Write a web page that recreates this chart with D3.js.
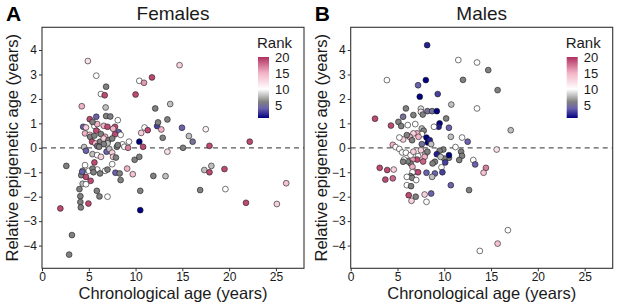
<!DOCTYPE html>
<html>
<head>
<meta charset="utf-8">
<script src="https://cdn.jsdelivr.net/npm/d3@7"></script>
<style>
  body { margin: 0; background: #fff; }
  svg { font-family: "Liberation Sans", Arial, sans-serif; }
</style>
</head>
<body>
<div id="chart"></div>
<script>
// Females: chronological age, relative epigenetic age, rank
var femaleAge = [4.9,5.8,6.3,6.85,6.7,6.8,4.25,5.8,6.85,7.3,5.1,4.4,4.7,5.6,5.9,5.4,6.6,7.0,7.8,8.1,7.6,8.2,7.8,8.4,4.6,5.1,5.15,5.6,5.96,6.3,5.8,6.75,5.35,5.7,6.2,6.6,7.1,7.5,7.0,6.6,5.9,4.5,4.7,6.1,6.9,7.2,7.5,7.6,8.0,8.6,8.8,8.1,5.4,5.9,6.3,5.6,4.6,5.0,5.9,5.4,5.5,4.35,4.2,4.3,4.7,5.2,4.35,4.7,4.0,4.1,4.1,4.15,4.96,5.86,6.14,7.0,2.6,1.96,3.2,2.9,6.75,7.0,7.5,7.9,7.85,8.3,8.4,6.2,9.1,9.2,9.3,9.7,9.9,10.4,10.4,10.0,10.4,10.9,11.75,10.96,10.6,11.3,10.8,10.5,10.5,12.1,12.3,12.4,12.75,12.9,13.4,13.7,13.4,11.9,13.2,14.7,14.96,15.07,15.7,16.1,17.5,17.35,16.9,17.9,17.9,18.1,19.5,19.6,22.2,21.8,25.1,26.1];
var femaleRel = [3.55,2.95,2.2,2.5,2.15,1.65,1.7,1.27,1.3,1.28,1.17,0.86,0.83,0.89,0.97,1.06,0.9,0.86,0.86,1.13,0.78,0.64,0.55,0.53,0.59,0.53,0.45,0.5,0.65,0.56,0.7,0.45,0.25,0.18,0.25,0.38,0.31,0.38,0.18,0.15,0.07,0.03,-0.12,0.04,-0.16,-0.05,-0.2,-0.37,0.04,0.14,0.04,0.11,-0.26,-0.3,-0.37,-0.6,-0.71,-0.94,-0.89,-0.85,-1.0,-0.94,-1.12,-0.98,-1.19,-1.35,-1.47,-1.49,-1.69,-1.98,-2.22,-2.44,-2.28,-1.76,-1.99,-2.0,-0.74,-2.48,-3.57,-4.37,-0.94,-0.89,-0.67,-0.4,-1.02,-1.05,-1.32,-1.05,-0.85,0.0,0.25,-1.08,-0.49,-0.37,0.25,2.18,2.74,2.66,2.88,0.83,0.61,0.72,0.04,-1.76,-2.55,1.61,0.89,1.04,0.75,0.41,1.16,1.79,-0.16,-1.15,-1.16,3.38,0.82,0.0,0.48,0.25,0.76,-0.91,-1.73,0.08,-1.0,-0.74,-0.87,-1.69,0.25,-2.25,-2.3,-1.45];
var femaleRank = [12,10,10,6,19,8,15,4,6,6,19,4,13,10,15,6,15,19,19,10,15,4,19,10,15,13,6,6,10,6,19,15,19,15,6,13,6,6,8,6,5,8,4,6,4,8,13,13,6,10,10,6,8,10,13,19,10,10,10,6,6,8,6,4,19,19,8,10,6,6,6,6,19,6,6,10,6,19,6,6,10,6,10,6,4,6,6,6,15,17,10,14,6,6,1,19,10,16,19,10,13,19,19,6,1,6,3,6,15,6,6,8,12,6,8,13,4,6,8,5,11,8,6,19,19,8,19,10,19,19,13,14];

// Males
var maleAge = [8.17,3.87,8.03,7.2,7.38,9.3,11.5,13.5,14.7,12.0,15.7,13.5,17.1,15.6,10.75,5.9,5.6,5.1,5.4,6.1,6.7,6.9,7.5,7.5,7.7,8.2,8.7,9.2,9.5,9.4,8.9,10.2,10.5,7.6,7.8,7.6,7.1,7.25,6.7,6.3,6.0,5.6,5.2,6.56,8.1,8.24,8.45,8.6,7.6,4.5,4.3,2.6,10.7,11.9,12.5,11.2,11.8,11.9,11.6,10.5,10.5,10.0,10.1,9.9,9.5,9.2,9.6,9.7,9.8,9.0,8.75,8.0,8.2,7.5,7.2,7.9,7.74,7.1,6.6,6.4,6.1,5.7,4.8,5.2,5.5,5.9,6.4,6.7,5.6,6.6,6.8,7.2,6.6,6.4,6.56,6.0,7.0,6.0,6.45,8.1,9.0,8.7,10.7,12.65,3.1,3.9,4.6,3.7,4.5,6.2,6.95,6.5,7.9,8.1,8.6,13.1,13.3,14.45,14.2,16.8,15.7,13.8];
var maleRel = [4.2,2.77,2.77,2.56,2.09,2.2,3.59,3.49,3.18,2.78,2.36,1.61,0.72,-0.07,1.77,1.61,1.27,1.06,0.89,0.93,1.34,0.97,1.6,1.47,1.36,1.5,1.5,1.5,1.0,0.86,0.86,1.2,0.82,0.79,0.7,0.56,0.59,0.45,0.59,0.45,0.52,0.34,0.42,0.31,0.42,0.22,0.31,0.15,0.15,0.12,0.91,1.19,0.45,0.42,0.25,0.03,-0.16,-0.33,-0.5,-0.41,-0.3,-0.44,-0.6,-0.07,-0.12,-0.26,-0.37,-0.8,-1.0,-0.57,-0.64,-0.23,-0.16,-0.1,-0.34,-0.37,-0.56,-0.48,-0.48,-0.64,-0.55,-0.48,0.03,-0.05,-0.19,-0.2,-0.3,-0.16,-0.57,-0.78,-0.98,-1.0,-1.0,-1.16,-1.23,-1.19,-1.32,-1.53,-1.57,-1.02,-1.05,-1.19,-1.53,-1.73,-0.82,-0.91,-0.89,-1.3,-1.25,-1.94,-2.0,-2.17,-1.91,-2.21,-1.87,-0.5,-0.68,-0.82,-1.02,-3.37,-3.92,-4.22];
var maleRank = [2,10,1,4,1,3,10,10,6,6,6,10,8,12,8,6,5,6,6,10,6,10,9,12,6,5,5,1,1,2,10,6,4,8,6,10,15,15,13,15,6,13,10,6,1,1,2,8,5,15,19,19,8,10,4,10,6,6,6,6,1,6,3,6,6,2,8,10,3,6,6,8,6,13,10,15,18,19,16,6,6,10,10,10,10,10,10,13,6,15,15,19,10,6,6,10,10,10,6,4,4,8,4,6,19,19,13,19,18,19,6,13,13,10,4,10,4,17,14,10,14,10];

var xTicks = [0, 5, 10, 15, 20, 25];
var yTicks = [-4, -3, -2, -1, 0, 1, 2, 3, 4];
var legendTicks = [5, 10, 15, 20];

var W = 617, H = 308;
var svg = d3.select('#chart').append('svg')
	.attr('width', W)
	.attr('height', H);

var color = d3.scaleLinear()
	.domain([1, 4, 6, 10, 15, 20])
	.range(['#000080', '#6b62ad', '#808080', '#ffffff', '#f3b3c6', '#b03060']);

// one gradient for both legends
var grad = svg.append('defs').append('linearGradient')
	.attr('id', 'rankGrad')
	.attr('x1', 0).attr('y1', 1).attr('x2', 0).attr('y2', 0);
d3.range(1, 20.5, 0.5).forEach(function (v) {
	grad.append('stop')
		.attr('offset', ((v - 1) / 19 * 100) + '%')
		.attr('stop-color', color(v));
});

function drawPanel(left, letter, title, ages, rels, ranks) {
	var top = 27.3, bottom = 268.3, w = 262;
	var x = d3.scaleLinear().domain([0, 28]).range([left, left + w]);
	var y = d3.scaleLinear().domain([-4.93, 4.93]).range([bottom, top]);
	var g = svg.append('g');

	// dashed zero line
	g.append('line')
		.attr('x1', left).attr('x2', left + w)
		.attr('y1', y(0)).attr('y2', y(0))
		.attr('stroke', '#595959')
		.attr('stroke-width', 1.2)
		.attr('stroke-dasharray', '5,4');

	var pts = d3.range(ages.length).map(function (i) {
		return {x: ages[i], y: rels[i], r: ranks[i]};
	});
	g.selectAll('circle.pt')
		.data(pts)
		.enter().append('circle')
		.attr('class', 'pt')
		.attr('cx', function (d) { return x(d.x); })
		.attr('cy', function (d) { return y(d.y); })
		.attr('r', 2.9)
		.attr('fill', function (d) { return color(d.r); })
		.attr('stroke', '#1a1a1a')
		.attr('stroke-width', 0.6);

	// axes
	var xa = g.append('g')
		.attr('transform', 'translate(0,' + bottom + ')')
		.call(d3.axisBottom(x).tickValues(xTicks).tickSize(3).tickPadding(1));
	var ya = g.append('g')
		.attr('transform', 'translate(' + left + ',0)')
		.call(d3.axisLeft(y).tickValues(yTicks).tickSize(3).tickPadding(2)
			.tickFormat(function (d) { return d < 0 ? '\u2212' + Math.abs(d) : d; }));
	[xa, ya].forEach(function (a) {
		a.select('.domain').remove();
		a.selectAll('line').attr('stroke', '#333');
		a.selectAll('text').attr('fill', '#1a1a1a').style('font-size', '12px');
	});

	// border
	g.append('rect')
		.attr('x', left).attr('y', top)
		.attr('width', w).attr('height', bottom - top)
		.attr('fill', 'none')
		.attr('stroke', '#333')
		.attr('stroke-width', 1.1);

	g.append('text')
		.attr('x', left + w / 2).attr('y', 299)
		.attr('text-anchor', 'middle')
		.style('font-size', '16.5px')
		.attr('fill', '#1a1a1a')
		.text('Chronological age (years)');
	g.append('text')
		.attr('transform', 'translate(' + (left - 24) + ',' + ((top + bottom) / 2) + ') rotate(-90)')
		.attr('text-anchor', 'middle')
		.style('font-size', '16.5px')
		.attr('fill', '#1a1a1a')
		.text('Relative epigenetic age (years)');
	g.append('text')
		.attr('x', left + w / 2).attr('y', 20)
		.attr('text-anchor', 'middle')
		.style('font-size', '19px')
		.attr('fill', '#1a1a1a')
		.text(title);
	g.append('text')
		.attr('x', left - 36).attr('y', 21)
		.style('font-size', '21px')
		.style('font-weight', 'bold')
		.attr('fill', '#000')
		.text(letter);

	// legend
	var lx = left + 216, ly = 57, lh = 61;
	var ls = d3.scaleLinear().domain([1, 20]).range([ly + lh, ly]);
	g.append('text')
		.attr('x', lx - 1).attr('y', 48)
		.style('font-size', '15px')
		.attr('fill', '#1a1a1a')
		.text('Rank');
	g.append('rect')
		.attr('x', lx).attr('y', ly)
		.attr('width', 11).attr('height', lh)
		.attr('fill', 'url(#rankGrad)');
	g.selectAll('text.lt')
		.data(legendTicks)
		.enter().append('text')
		.attr('class', 'lt')
		.attr('x', lx + 17)
		.attr('y', function (d) { return ls(d) + 4.5; })
		.style('font-size', '13px')
		.attr('fill', '#1a1a1a')
		.text(function (d) { return d; });
}

drawPanel(42, 'A', 'Females', femaleAge, femaleRel, femaleRank);
drawPanel(350.7, 'B', 'Males', maleAge, maleRel, maleRank);
</script>
</body>
</html>
